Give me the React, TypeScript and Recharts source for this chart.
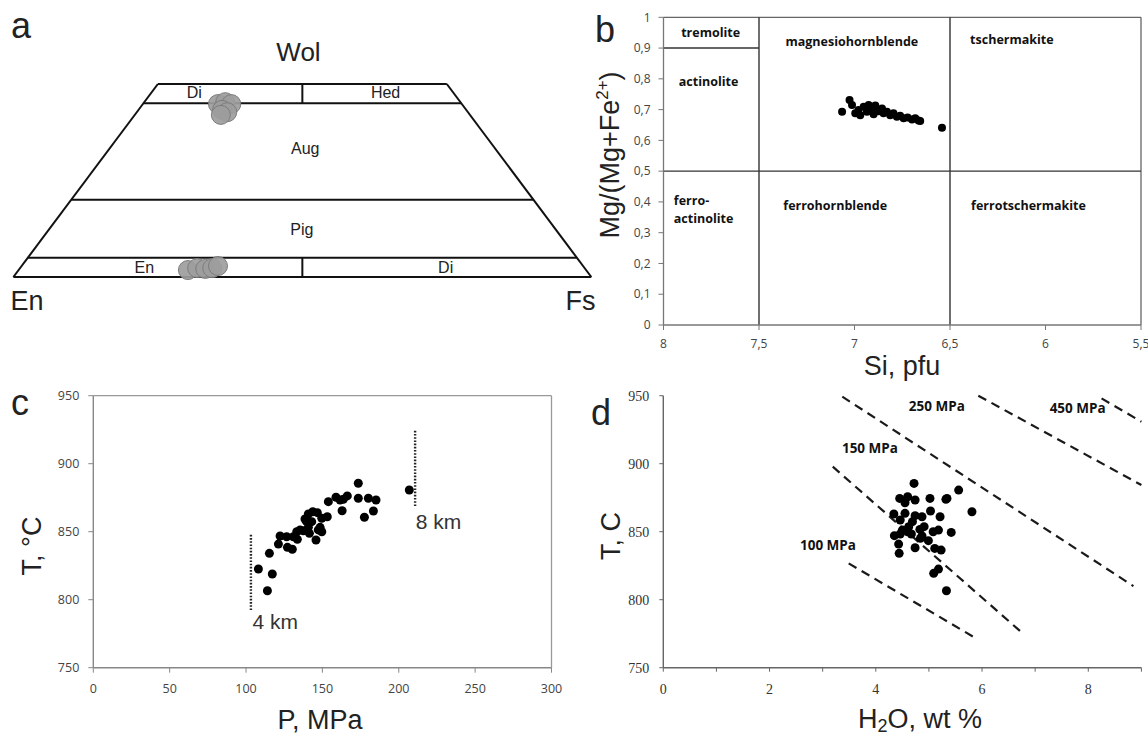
import React from 'react';
import { ScatterChart, Scatter, XAxis, YAxis, ReferenceLine } from 'recharts';

// ---------- Panel a: pyroxene quadrilateral (Wo-En-Fs) ----------
const pyxWo = [44.8, 45.3, 44.8, 43.3, 42.7, 42.0, 1.8, 2.3, 2.1, 2.3, 2.85];
const pyxEn = [42.2, 40.7, 39.9, 42.25, 41.65, 43.1, 68.9, 67.05, 65.75, 64.45, 63.17];
const pyxFs = [13.0, 14.0, 15.3, 14.45, 15.65, 14.9, 29.3, 30.65, 32.15, 33.25, 33.98];
const quadWoLevels = [0, 5, 20, 45, 50];
const quadFieldNames = ['Di', 'Hed', 'Aug', 'Pig', 'En', 'Di'];
const quadFieldX = [31.3, 64.4, 50.5, 49.9, 22.65, 74.8];
const quadFieldWo = [47.8, 47.8, 33.4, 12.4, 2.4, 2.4];

// ---------- Panel b: amphibole classification ----------
const amphSi = [7.065, 7.026, 7.013, 6.996, 6.979, 6.97, 6.952, 6.935, 6.926, 6.909, 6.9, 6.891, 6.874, 6.856, 6.848, 6.83, 6.813, 6.796, 6.778, 6.761, 6.743, 6.722, 6.699, 6.682, 6.665, 6.656, 6.542];
const amphMg = [0.693, 0.731, 0.715, 0.688, 0.699, 0.682, 0.709, 0.693, 0.715, 0.704, 0.685, 0.713, 0.695, 0.704, 0.688, 0.693, 0.682, 0.688, 0.677, 0.68, 0.672, 0.674, 0.668, 0.672, 0.665, 0.663, 0.641];
const siTicks = [8, 7.5, 7, 6.5, 6, 5.5];
const mgTicks = [0, 0.1, 0.2, 0.3, 0.4, 0.5, 0.6, 0.7, 0.8, 0.9, 1];
const amphFieldNames = ['tremolite', 'magnesiohornblende', 'tschermakite', 'actinolite', 'ferro-', 'actinolite', 'ferrohornblende', 'ferrotschermakite'];
const amphFieldSi = [7.753, 7.014, 6.176, 7.764, 7.946, 7.946, 7.101, 6.089];
const amphFieldMg = [0.951, 0.922, 0.926, 0.79, 0.403, 0.345, 0.389, 0.389];
const amphFieldAnchor = ['middle', 'middle', 'middle', 'middle', 'start', 'start', 'middle', 'middle'];

// ---------- Panel c: P-T ----------
const pressC = [108.1, 114, 115.3, 117.2, 121.2, 122.3, 126.6, 127.1, 130.3, 131, 133.2, 133.6, 135.4, 137.5, 138.6, 139.7, 140.8, 140.8, 141.5, 143, 143.7, 145.8, 146.7, 147.3, 148.5, 149.6, 149.6, 153.2, 153.9, 158.9, 161.6, 162.9, 163.7, 166.3, 173.5, 173.5, 177.5, 180.1, 183.4, 185.1, 206.9];
const tempC = [822.6, 806.6, 834.1, 818.9, 840.9, 846.8, 846.3, 838.5, 837.1, 846.3, 850, 844.4, 851.3, 850.7, 859.3, 857.4, 863, 853.2, 848.8, 857.4, 864.7, 843.9, 864, 851.3, 853.2, 850, 859.9, 861, 872.1, 875.3, 873.3, 865.4, 873.8, 876.3, 885.6, 874.6, 860.6, 874.6, 865.2, 873.3, 880.7];
const pTicks = [0, 50, 100, 150, 200, 250, 300];
const tTicks = [750, 800, 850, 900, 950];
const depthLabels = ['4 km', '8 km'];
const depthP = [103.2, 210.7];
const depthTlow = [792.4, 868.9];
const depthThigh = [848, 924.8];
const depthLabelP = [104.2, 211.1];
const depthLabelT = [783.5, 857.4];

// ---------- Panel d: H2O-T ----------
const waterD = [4.72, 4.45, 4.6, 4.74, 4.55, 5.02, 5.32, 5.34, 5.56, 5.81, 5.03, 4.34, 4.55, 4.74, 4.87, 5.21, 4.46, 4.69, 4.35, 4.46, 4.6, 4.67, 4.83, 4.91, 5.08, 5.18, 5.42, 4.43, 4.84, 4.99, 4.74, 4.44, 5.11, 5.23, 5.18, 5.09, 5.33, 4.62, 4.87, 4.5];
const tempD = [885.5, 874.5, 875.7, 873.3, 871.3, 874.5, 873.8, 874.5, 880.6, 864.7, 865.2, 863, 863.5, 861.8, 861, 861, 858.6, 857.4, 847.1, 848.3, 850, 848.3, 851.7, 853.7, 850, 851.2, 849.5, 840.9, 845.1, 843.4, 838.2, 834.1, 837.7, 836.5, 822.5, 819.4, 806.6, 853.7, 846.8, 851.2];
const waterTicks = [0, 1, 2, 3, 4, 5, 6, 7, 8, 9];
const isobarW1 = [3.49, 3.19, 3.37, 5.93, 8.25];
const isobarT1 = [826.7, 897.8, 949.3, 950, 948];
const isobarW2 = [5.92, 6.73, 8.85, 9.0, 9.0];
const isobarT2 = [770.8, 776.5, 810, 884.3, 930.9];
const isobarLabels = ['100 MPa', '150 MPa', '250 MPa', '450 MPa'];
const isobarLabelW = [3.1, 3.89, 5.15, 7.8];
const isobarLabelT = [840.2, 911.3, 941.9, 940.7];

const SANS = '"Liberation Sans", Arial, Helvetica, sans-serif';
const CAL = '"Open Sans", "Liberation Sans", sans-serif';
const SERIF = '"Liberation Serif", "Times New Roman", serif';

const dotShape = (r: number, fill: string, stroke?: string, opacity = 1) => (p: any) => (
  <circle cx={p.cx} cy={p.cy} r={r} fill={fill} stroke={stroke || 'none'} strokeWidth={1} fillOpacity={opacity} />
);

const textShape = (size: number, weight: number | string, family: string, fill = '#111') => (p: any) => (
  <text
    x={p.cx}
    y={p.cy}
    dy="0.35em"
    textAnchor={p.payload.anchor || 'middle'}
    fontSize={size}
    fontWeight={weight}
    fontFamily={family}
    fill={fill}
  >
    {p.payload.text}
  </text>
);

const fmtComma = (v: number) => (Number.isInteger(v) ? String(v) : v.toFixed(1).replace('.', ','));

function PanelA() {
  const pts = pyxWo.map((wo, i) => {
    const s = wo + pyxEn[i] + pyxFs[i];
    return { x: ((pyxFs[i] + wo / 2) / s) * 100, y: (wo / s) * 100 };
  });
  const labels = quadFieldNames.map((t, i) => ({ x: quadFieldX[i], y: quadFieldWo[i], text: t }));
  const line = { stroke: '#111', strokeWidth: 2 };
  return (
    <ScatterChart width={600} height={330} margin={{ top: 84, right: 8.7, bottom: 53, left: 13.4 }}>
      <XAxis type="number" dataKey="x" domain={[0, 100]} hide />
      <YAxis type="number" dataKey="y" domain={[0, 50]} hide />
      {quadWoLevels.map((w) => (
        <ReferenceLine key={'lv' + w} segment={[{ x: w / 2, y: w }, { x: 100 - w / 2, y: w }]} {...line} ifOverflow="visible" />
      ))}
      <ReferenceLine segment={[{ x: 0, y: 0 }, { x: 25, y: 50 }]} {...line} ifOverflow="visible" />
      <ReferenceLine segment={[{ x: 100, y: 0 }, { x: 75, y: 50 }]} {...line} ifOverflow="visible" />
      <ReferenceLine segment={[{ x: 50, y: 0 }, { x: 50, y: 5 }]} {...line} ifOverflow="visible" />
      <ReferenceLine segment={[{ x: 50, y: 45 }, { x: 50, y: 50 }]} {...line} ifOverflow="visible" />
      <Scatter data={labels} shape={textShape(16, 400, SANS, '#222')} isAnimationActive={false} />
      <Scatter data={pts} shape={dotShape(9.5, '#9d9d9d', '#7c7c7c', 0.92)} isAnimationActive={false} />
    </ScatterChart>
  );
}

function PanelB() {
  const pts = amphSi.map((s, i) => ({ x: s, y: amphMg[i] }));
  const labels = amphFieldNames.map((t, i) => ({ x: amphFieldSi[i], y: amphFieldMg[i], text: t, anchor: amphFieldAnchor[i] }));
  const tickStyle = { fontSize: 12, fill: '#444', fontFamily: CAL };
  const inner = { stroke: '#333', strokeWidth: 1.4 };
  return (
    <ScatterChart width={558} height={370} margin={{ top: 17.3, right: 7, bottom: 15, left: 33.5 }}>
      <XAxis
        type="number"
        dataKey="x"
        domain={[5.5, 8]}
        reversed
        ticks={siTicks}
        interval={0}
        tickFormatter={fmtComma}
        tick={tickStyle}
        tickSize={5}
        tickMargin={9}
        height={30}
        axisLine={{ stroke: '#777', strokeWidth: 1.3 }}
        tickLine={{ stroke: '#777' }}
      />
      <YAxis
        type="number"
        dataKey="y"
        domain={[0, 1]}
        ticks={mgTicks}
        interval={0}
        tickFormatter={fmtComma}
        tick={tickStyle}
        tickSize={5}
        tickMargin={8}
        width={40}
        axisLine={{ stroke: '#777', strokeWidth: 1.3 }}
        tickLine={{ stroke: '#777' }}
      />
      <ReferenceLine y={1} stroke="#666" strokeWidth={1.3} />
      <ReferenceLine x={5.5} stroke="#666" strokeWidth={1.3} />
      <ReferenceLine x={7.5} {...inner} />
      <ReferenceLine x={6.5} {...inner} />
      <ReferenceLine y={0.5} {...inner} />
      <ReferenceLine segment={[{ x: 8, y: 0.9 }, { x: 7.5, y: 0.9 }]} {...inner} />
      <Scatter data={labels} shape={textShape(12.5, 700, CAL, '#111')} isAnimationActive={false} />
      <Scatter data={pts} shape={dotShape(4, '#000')} isAnimationActive={false} />
    </ScatterChart>
  );
}

function PanelC() {
  const pts = pressC.map((p, i) => ({ x: p, y: tempC[i] }));
  const labels = depthLabels.map((t, i) => ({ x: depthLabelP[i], y: depthLabelT[i], text: t, anchor: 'start' }));
  const tickStyle = { fontSize: 12.5, fill: '#444', fontFamily: CAL };
  return (
    <ScatterChart width={590} height={368} margin={{ top: 25.7, right: 38.5, bottom: 40.3, left: 43.3 }}>
      <XAxis
        type="number"
        dataKey="x"
        domain={[0, 300]}
        ticks={pTicks}
        interval={0}
        tick={tickStyle}
        tickSize={5}
        tickMargin={11}
        height={30}
        axisLine={{ stroke: '#888', strokeWidth: 1.4 }}
        tickLine={{ stroke: '#888' }}
      />
      <YAxis
        type="number"
        dataKey="y"
        domain={[750, 950]}
        ticks={tTicks}
        interval={0}
        tick={tickStyle}
        tickSize={5}
        tickMargin={9}
        width={50}
        axisLine={{ stroke: '#888', strokeWidth: 1.4 }}
        tickLine={{ stroke: '#888' }}
      />
      <ReferenceLine y={950} stroke="#999" strokeWidth={1.3} />
      <ReferenceLine x={300} stroke="#999" strokeWidth={1.3} />
      {depthP.map((p, i) => (
        <ReferenceLine
          key={'d' + i}
          segment={[{ x: p, y: depthTlow[i] }, { x: p, y: depthThigh[i] }]}
          stroke="#222"
          strokeWidth={2.4}
          strokeDasharray="1.6 1.6"
        />
      ))}
      <Scatter data={labels} shape={textShape(21, 400, SANS, '#333')} isAnimationActive={false} />
      <Scatter data={pts} shape={dotShape(4.5, '#000')} isAnimationActive={false} />
    </ScatterChart>
  );
}

function PanelD() {
  const pts = waterD.map((w, i) => ({ x: w, y: tempD[i] }));
  const labels = isobarLabels.map((t, i) => ({ x: isobarLabelW[i], y: isobarLabelT[i], text: t }));
  const tickStyle = { fontSize: 14, fill: '#333', fontFamily: SERIF };
  return (
    <ScatterChart width={568} height={368} margin={{ top: 25.7, right: 6.6, bottom: 40.3, left: 33.3 }}>
      <XAxis
        type="number"
        dataKey="x"
        domain={[0, 9]}
        ticks={waterTicks}
        interval={0}
        tickFormatter={(v: number) => (v % 2 === 0 ? String(v) : '')}
        tick={tickStyle}
        tickSize={4}
        tickMargin={12}
        height={30}
        axisLine={{ stroke: '#666', strokeWidth: 1.4 }}
        tickLine={{ stroke: '#666' }}
      />
      <YAxis
        type="number"
        dataKey="y"
        domain={[750, 950]}
        ticks={tTicks}
        interval={0}
        tick={tickStyle}
        tickSize={4}
        tickMargin={10}
        width={50}
        axisLine={{ stroke: '#666', strokeWidth: 1.4 }}
        tickLine={{ stroke: '#666' }}
      />
      {isobarW1.map((w, i) => (
        <ReferenceLine
          key={'iso' + i}
          segment={[{ x: w, y: isobarT1[i] }, { x: isobarW2[i], y: isobarT2[i] }]}
          stroke="#1a1a1a"
          strokeWidth={2.2}
          strokeDasharray="9 6"
          ifOverflow="visible"
        />
      ))}
      <Scatter data={labels} shape={textShape(13.5, 700, CAL, '#111')} isAnimationActive={false} />
      <Scatter data={pts} shape={dotShape(4.5, '#000')} isAnimationActive={false} />
    </ScatterChart>
  );
}

export default function App() {
  const abs = (left: number, top: number): React.CSSProperties => ({ position: 'absolute', left, top });
  return (
    <div style={{ position: 'fixed', left: 0, top: 0, width: 1148, height: 738, background: '#fff', overflow: 'hidden' }}>
      <div style={abs(0, 0)}><PanelA /></div>
      <div style={abs(590, 0)}><PanelB /></div>
      <div style={abs(0, 370)}><PanelC /></div>
      <div style={abs(580, 370)}><PanelD /></div>
      <svg width={1148} height={738} style={{ position: 'absolute', left: 0, top: 0, pointerEvents: 'none' }}>
        <g fontFamily={SANS} fill="#222">
          <text x={11} y={38} fontSize={36}>a</text>
          <text x={595} y={42} fontSize={36}>b</text>
          <text x={11} y={415} fontSize={36}>c</text>
          <text x={591} y={425} fontSize={36}>d</text>

          <text x={298.5} y={61} fontSize={26} textAnchor="middle">Wol</text>
          <text x={10.5} y={310} fontSize={27}>En</text>
          <text x={565.5} y={310} fontSize={27}>Fs</text>

          <text x={902} y={375} fontSize={27} textAnchor="middle">Si, pfu</text>
          <text transform="translate(619,155) rotate(-90)" fontSize={27} textAnchor="middle">
            Mg/(Mg+Fe<tspan dy={-11} fontSize={17}>2+</tspan><tspan dy={11}>)</tspan>
          </text>

          <text x={320} y={729} fontSize={27} textAnchor="middle">P, MPa</text>
          <text transform="translate(41,546) rotate(-90)" fontSize={27} textAnchor="middle">T, °C</text>

          <text x={920} y={728} fontSize={27} textAnchor="middle">
            H<tspan dy={4} fontSize={18}>2</tspan><tspan dy={-4}>O, wt %</tspan>
          </text>
          <text transform="translate(620,536) rotate(-90)" fontSize={27} textAnchor="middle">T, C</text>
        </g>
      </svg>
    </div>
  );
}
